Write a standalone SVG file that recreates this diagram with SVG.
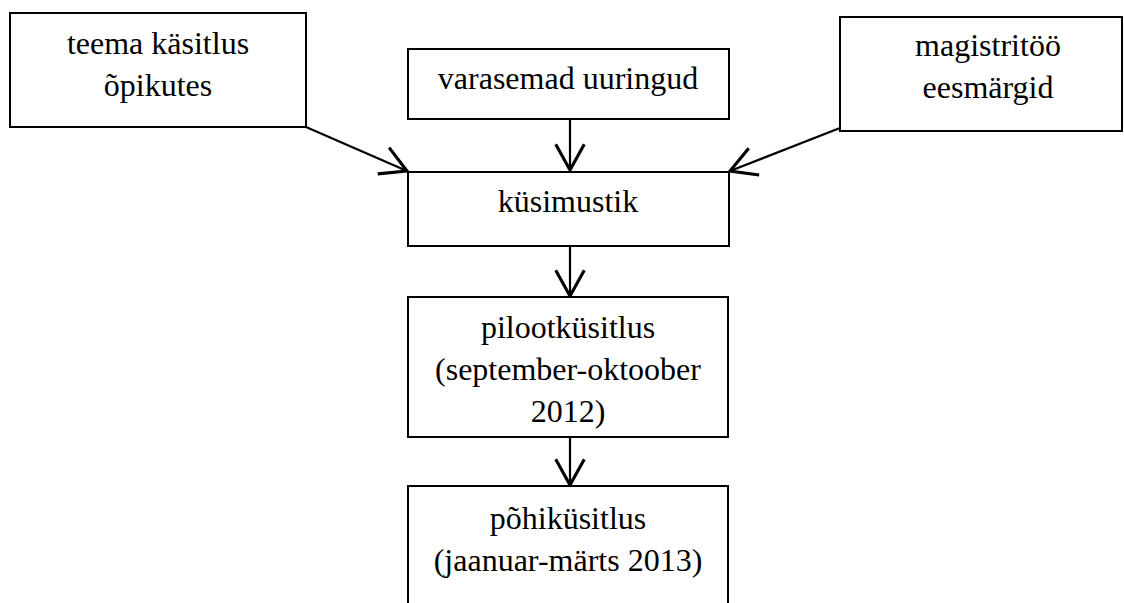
<svg xmlns="http://www.w3.org/2000/svg" width="1124" height="603" viewBox="0 0 1124 603">
<style>
.box{fill:#fff;stroke:#000;stroke-width:2}
.lbl{font-family:"Liberation Serif","Times New Roman",serif;font-size:32px;fill:#000;text-anchor:middle}
.conn{fill:none;stroke:#000;stroke-width:2.2;marker-end:url(#arr)}
</style>
<defs>
<marker id="arr" markerUnits="userSpaceOnUse" orient="auto" refX="0" refY="0" markerWidth="40" markerHeight="40" viewBox="-22 -14 26 28" overflow="visible">
<path d="M-18,-10 L0,0 L-18,10" fill="none" stroke="#000" stroke-width="2.2"/>
</marker>
</defs>
<rect width="1124" height="603" fill="#fff"/>
<g id="connectors">
<line class="conn" x1="306" y1="127" x2="407" y2="171"/>
<line class="conn" x1="570" y1="120" x2="570" y2="170"/>
<line class="conn" x1="840" y1="128" x2="730" y2="171"/>
<line class="conn" x1="570" y1="246" x2="570" y2="296"/>
<line class="conn" x1="570" y1="437" x2="570" y2="485"/>
</g>
<g id="n-teema">
<rect class="box" x="10" y="13" width="296" height="114"/>
<text class="lbl" x="158" y="54">teema käsitlus</text>
<text class="lbl" x="158" y="96">õpikutes</text>
</g>
<g id="n-varasemad">
<rect class="box" x="408" y="49" width="321" height="70"/>
<text class="lbl" x="568" y="89">varasemad uuringud</text>
</g>
<g id="n-magistritoo">
<rect class="box" x="840" y="17" width="282" height="114"/>
<text class="lbl" x="988" y="56">magistritöö</text>
<text class="lbl" x="988" y="98">eesmärgid</text>
</g>
<g id="n-kusimustik">
<rect class="box" x="408" y="172" width="321" height="74"/>
<text class="lbl" x="568" y="212">küsimustik</text>
</g>
<g id="n-pilootkusitlus">
<rect class="box" x="408" y="297" width="320" height="140"/>
<text class="lbl" x="568" y="338">pilootküsitlus</text>
<text class="lbl" x="568" y="380">(september-oktoober</text>
<text class="lbl" x="568" y="422">2012)</text>
</g>
<g id="n-pohikusitlus">
<rect class="box" x="408" y="486" width="320" height="130"/>
<text class="lbl" x="568" y="529">põhiküsitlus</text>
<text class="lbl" x="568" y="571">(jaanuar-märts 2013)</text>
</g>
</svg>
